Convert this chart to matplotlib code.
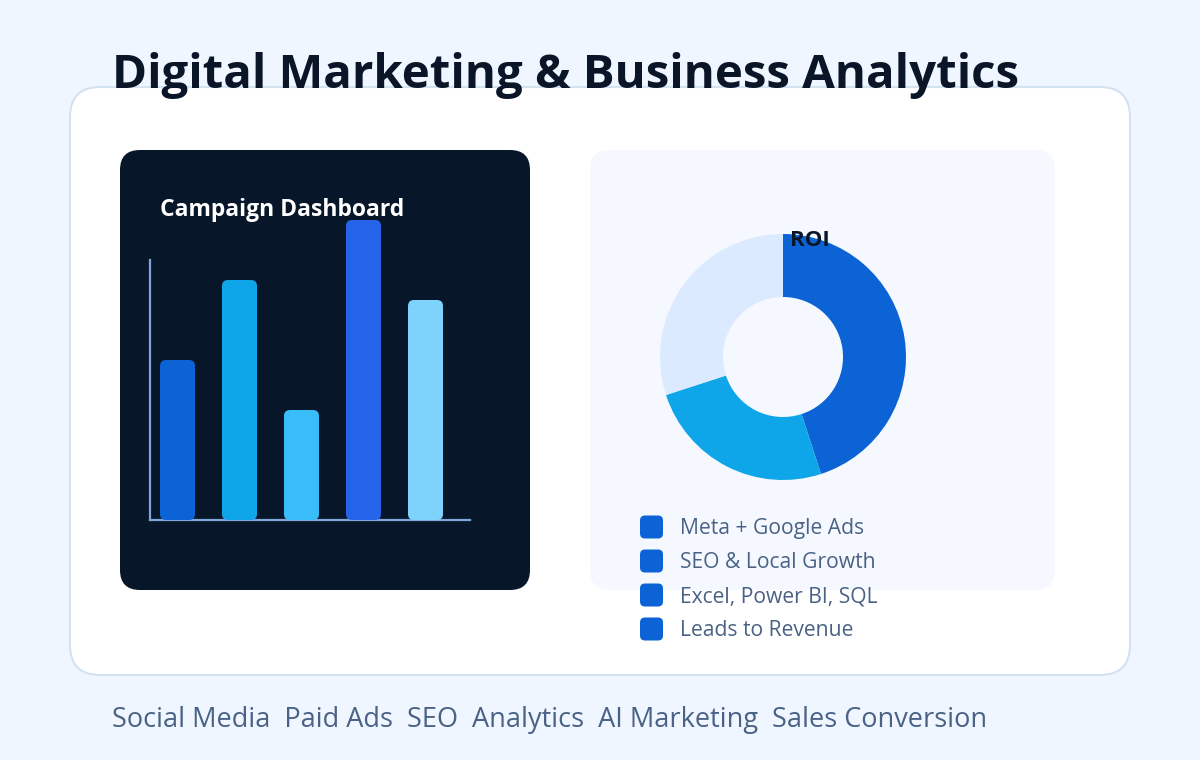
import matplotlib
matplotlib.use("Agg")
import matplotlib.pyplot as plt
from matplotlib.patches import FancyBboxPatch
import numpy as np

# ---- data ----
bar_values = [160, 240, 110, 300, 220]
bar_colors = ["#0B63D6", "#0EA5E9", "#38BDF8", "#2563EB", "#7DD3FC"]
roi_shares = [45, 25, 30]
roi_colors = ["#0B63D6", "#0EA5E9", "#DBEAFE"]
legend_labels = ["Meta + Google Ads", "SEO & Local Growth", "Excel, Power BI, SQL", "Leads to Revenue"]
footer_tags = ["Social Media", "Paid Ads", "SEO", "Analytics", "AI Marketing", "Sales Conversion"]
title_text = "Digital Marketing & Business Analytics"
bar_title = "Campaign Dashboard"
donut_title = "ROI"

W, H = 1200, 760
FONT = ["Open Sans", "DejaVu Sans"]
plt.rcParams['font.family'] = FONT

fig = plt.figure(figsize=(W / 100, H / 100), dpi=100)
fig.patch.set_facecolor("#EFF6FF")

# background canvas axes in pixel coordinates (y downward)
bg = fig.add_axes([0, 0, 1, 1])
bg.set_xlim(0, W)
bg.set_ylim(H, 0)
bg.axis("off")
bg.set_zorder(0)

def rbox(ax, x0, y0, x1, y1, r, fc, ec="none", lw=0, z=1):
    p = FancyBboxPatch((x0 + r, y0 + r), (x1 - x0) - 2 * r, (y1 - y0) - 2 * r,
                       boxstyle=f"round,pad={r},rounding_size={r}",
                       fc=fc, ec=ec, lw=lw, zorder=z)
    ax.add_patch(p)

rbox(bg, 70, 87, 1130, 675, 30, "white", ec="#D3E2F1", lw=1.5, z=1)
rbox(bg, 120, 150, 530, 590, 20, "#081629", z=2)
rbox(bg, 590, 150, 1055, 590, 20, "#F5F9FF", z=2)

bg.text(112, 88, title_text, fontsize=34.1, fontweight="bold", color="#0A1628",
        ha="left", va="baseline", zorder=10)
bg.text(160, 216, bar_title, fontsize=16.5, fontweight="bold", color="white",
        ha="left", va="baseline", zorder=10)

# legend
for i, lab in enumerate(legend_labels):
    cy = 527 + 34 * i
    rbox(bg, 640, cy - 11.5, 663, cy + 11.5, 5, "#0B63D6", z=5)
    bg.text(680, cy + 7, lab, fontsize=15.2, color="#4A6285", ha="left",
            va="baseline", zorder=6)

bg.text(112, 727, "  ".join(footer_tags), fontsize=19.5, color="#4A6285",
        ha="left", va="baseline", zorder=6)

# ---- bar chart ----
ax = fig.add_axes([150 / W, (H - 520) / H, 320 / W, 300 / H])
ax.set_facecolor("none")
ax.set_zorder(3)
x = np.arange(len(bar_values))
step = 62.0
x_lo = -27.5 / step
ax.set_xlim(x_lo, x_lo + 320 / step)
ax.set_ylim(0, 300)
bw = 35 / step
bars = ax.bar(x, bar_values, width=bw, color=bar_colors)
px_per_x = step
px_per_y = 1.0
asp = px_per_x / px_per_y
for b, c in zip(bars, bar_colors):
    b.set_visible(False)
    r = 6 / px_per_x
    fb = FancyBboxPatch((b.get_x() + r, b.get_y() + r * asp),
                        b.get_width() - 2 * r, b.get_height() - 2 * r * asp,
                        boxstyle=f"round,pad={r},rounding_size={r}",
                        mutation_aspect=asp, fc=c, ec="none", zorder=3)
    ax.add_patch(fb)
for s in ["top", "right"]:
    ax.spines[s].set_visible(False)
ax.spines["left"].set_bounds(0, 260)
for s in ["left", "bottom"]:
    ax.spines[s].set_color("#7FA6D6")
    ax.spines[s].set_linewidth(1.6)
ax.set_xticks([])
ax.set_yticks([])

# ---- donut ----
R = 123
dax = fig.add_axes([(783 - R) / W, (H - 357 - R) / H, 2 * R / W, 2 * R / H])
dax.pie(roi_shares, colors=roi_colors, startangle=90, counterclock=False,
        radius=1, wedgeprops=dict(width=(123 - 60) / 123, edgecolor="none"))
dax.set_xlim(-1, 1)
dax.set_ylim(-1, 1)
dax.set_aspect("equal")
dax.axis("off")
dax.set_zorder(3)
dax.text(790, 246, donut_title, fontsize=16, fontweight="bold", color="#0A1628",
         ha="left", va="baseline", zorder=20, transform=bg.transData, clip_on=False)

fig.savefig("out.png", dpi=100, facecolor=fig.get_facecolor())
